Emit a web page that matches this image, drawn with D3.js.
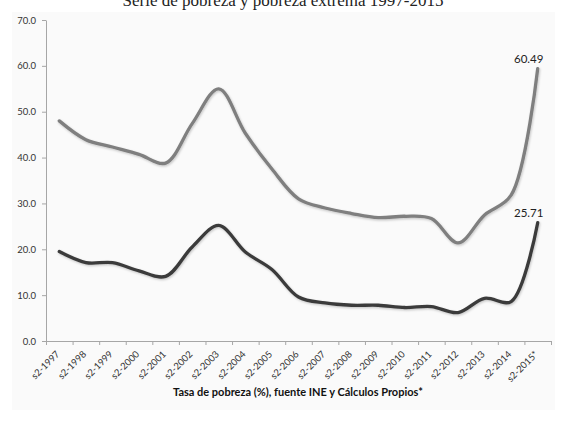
<!DOCTYPE html>
<html>
<head>
<meta charset="utf-8">
<script src="https://cdn.jsdelivr.net/npm/d3@7"></script>
<style>
  body { margin: 0; background: #fff; }
  svg { display: block; }
</style>
</head>
<body>
<div id="chart"></div>
<script>
// categories and series
var periods = ['s2-1997', 's2-1998', 's2-1999', 's2-2000', 's2-2001', 's2-2002', 's2-2003',
  's2-2004', 's2-2005', 's2-2006', 's2-2007', 's2-2008', 's2-2009', 's2-2010', 's2-2011',
  's2-2012', 's2-2013', 's2-2014', 's2-2015*'];
var pobreza = [48.0, 43.9, 42.3, 40.7, 38.8, 47.4, 55.0, 45.3, 37.5, 31.0, 29.0, 27.8, 26.9,
  27.2, 26.7, 21.4, 27.5, 31.8, 59.4];
var extrema = [19.5, 17.1, 17.1, 15.3, 14.1, 20.5, 25.2, 19.4, 15.6, 9.6, 8.3, 7.8, 7.8,
  7.3, 7.5, 6.2, 9.3, 8.6, 25.8];
var endLabels = ['60.49', '25.71'];
var yTicks = [0, 10, 20, 30, 40, 50, 60, 70];

var width = 568, height = 434;
var margin = { top: 20, right: 17, bottom: 93, left: 46 };

var svg = d3.select('#chart').append('svg')
    .attr('width', width)
    .attr('height', height);

var defs = svg.append('defs');
var shadow = defs.append('filter').attr('id', 'shadow')
    .attr('x', '-5%').attr('y', '-5%').attr('width', '110%').attr('height', '120%');
shadow.append('feDropShadow')
    .attr('dx', 0.8).attr('dy', 1.2).attr('stdDeviation', 0.9)
    .attr('flood-color', '#000').attr('flood-opacity', 0.22);

// chart panel
svg.append('rect')
    .attr('x', 12).attr('y', 12)
    .attr('width', 543).attr('height', 398)
    .style('fill', '#fafafa');

// title, cut at the top edge like the source
svg.append('text')
    .attr('x', 283).attr('y', 6)
    .attr('text-anchor', 'middle')
    .style('font-family', '"Liberation Serif", serif')
    .style('font-size', '17px')
    .style('fill', '#222')
    .text('Serie de pobreza y pobreza extrema 1997-2015');

var xScale = d3.scaleBand()
    .domain(periods)
    .range([margin.left, width - margin.right]);

var yScale = d3.scaleLinear()
    .domain([0, 70])
    .range([height - margin.bottom, margin.top]);

var xEdges = d3.scaleLinear()
    .domain([0, periods.length])
    .range([margin.left, width - margin.right]);

// y axis
var yGuide = svg.append('g')
    .attr('transform', 'translate(' + margin.left + ',0)')
    .call(d3.axisLeft(yScale)
      .tickValues(yTicks)
      .tickSize(4)
      .tickSizeOuter(0)
      .tickPadding(6)
      .tickFormat(d3.format('.1f')));

// x axis: ticks between categories
var xGuide = svg.append('g')
    .attr('transform', 'translate(0,' + (height - margin.bottom) + ')')
    .call(d3.axisBottom(xEdges)
      .tickValues(d3.range(periods.length + 1))
      .tickSize(4)
      .tickSizeOuter(0)
      .tickFormat(''));

var xLabels = svg.append('g')
    .attr('transform', 'translate(0,' + (height - margin.bottom) + ')')
    .call(d3.axisBottom(xScale).tickSize(0).tickPadding(0));
xLabels.select('.domain').remove();
xLabels.selectAll('text')
    .attr('text-anchor', 'end')
    .attr('x', -2).attr('y', 0).attr('dy', '0.35em')
    .attr('transform', 'translate(0,10) rotate(-45)');

[yGuide, xGuide].forEach(function(g) {
  g.selectAll('.domain, line').style('stroke', '#a6a6a6');
});
[yGuide, xLabels].forEach(function(g) {
  g.selectAll('text')
    .style('font-family', 'Lato, "Open Sans", sans-serif')
    .style('font-size', '9.5px')
    .style('fill', '#333');
});

// axis title
svg.append('text')
    .attr('x', 298).attr('y', 396)
    .attr('text-anchor', 'middle')
    .style('font-family', 'Lato, "Open Sans", sans-serif')
    .style('font-weight', 'bold')
    .style('font-size', '11px')
    .style('fill', '#111')
    .text('Tasa de pobreza (%), fuente INE y Cálculos Propios*');

var line = d3.line()
    .x(function(d, i) { return xScale(periods[i]) + xScale.bandwidth() / 2; })
    .y(function(d) { return yScale(d); })
    .curve(d3.curveCatmullRom.alpha(0.5));

var series = [
  { values: pobreza, color: '#7f7f7f', label: endLabels[0] },
  { values: extrema, color: '#3b3b3b', label: endLabels[1] }
];

series.forEach(function(s) {
  svg.append('path')
    .datum(s.values)
    .attr('d', line)
    .attr('filter', 'url(#shadow)')
    .style('fill', 'none')
    .style('stroke', s.color)
    .style('stroke-width', 3.3)
    .style('stroke-linecap', 'round')
    .style('stroke-linejoin', 'round');

  var last = s.values.length - 1;
  svg.append('text')
    .attr('x', xScale(periods[last]) + xScale.bandwidth() / 2 - 9)
    .attr('y', yScale(s.values[last]) - 6)
    .attr('text-anchor', 'middle')
    .style('font-family', 'Lato, "Open Sans", sans-serif')
    .style('font-size', '11.5px')
    .style('fill', '#222')
    .text(s.label);
});
</script>
</body>
</html>
